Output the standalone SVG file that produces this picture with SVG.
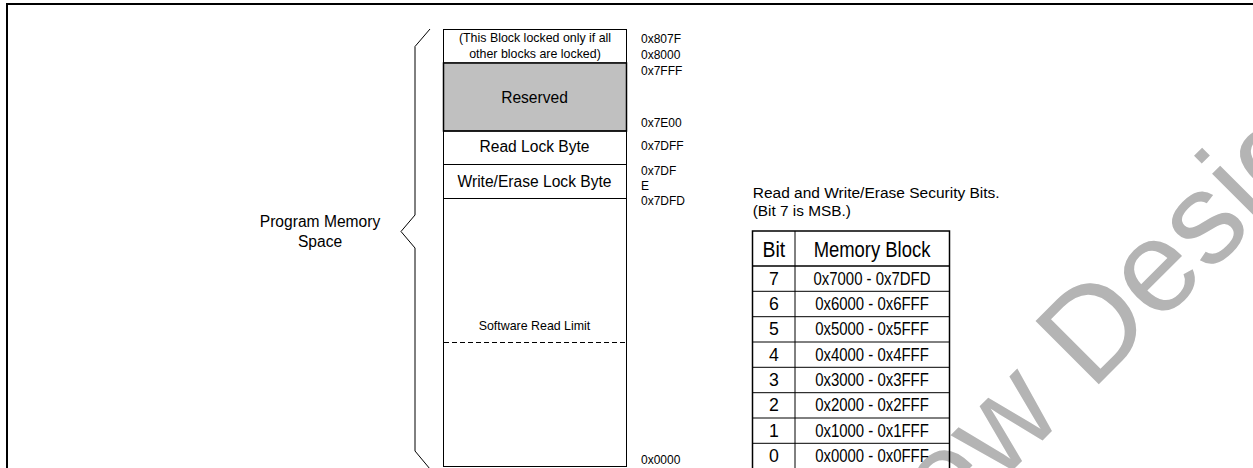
<svg xmlns="http://www.w3.org/2000/svg" width="1253" height="468" viewBox="0 0 1253 468">
<style>
  text { font-family: "Liberation Sans", Arial, sans-serif; fill: #000; }
  .lbl { font-size: 15.6px; text-anchor: middle; }
  .sm { font-size: 12.4px; text-anchor: middle; }
  .addr { font-size: 12px; }
  .title { font-size: 15.4px; }
  .th { font-size: 22px; text-anchor: middle; }
  .td { font-size: 17.7px; text-anchor: middle; }
  .ln { fill: none; stroke: #000; stroke-width: 1; }
  .wm { font-size: 130px; fill: #b4b4b4; }
</style>
<rect width="1253" height="468" fill="#fff"/>
<g id="watermark">
  <text class="wm" transform="translate(1091,392) rotate(-45)" x="-296" y="0">New Design</text>
</g>
<g id="frame">
  <path d="M7,470 V4 H1256" fill="none" stroke="#000" stroke-width="2"/>
</g>
<g id="memory-map">
  <g id="block-top">
    <rect class="ln" x="443.5" y="29.5" width="183" height="33.5" fill="#fff"/>
    <text class="sm" x="535" y="41.5">(This Block locked only if all</text>
    <text class="sm" x="535" y="58">other blocks are locked)</text>
  </g>
  <g id="block-reserved">
    <rect x="443.5" y="63" width="183" height="68" fill="#c0c0c0" stroke="#000" stroke-width="1.5"/>
    <text class="lbl" x="534.5" y="103.3">Reserved</text>
  </g>
  <g id="block-read-lock">
    <rect class="ln" x="443.5" y="131" width="183" height="33.5"/>
    <text class="lbl" x="534.5" y="152">Read Lock Byte</text>
  </g>
  <g id="block-write-lock">
    <rect class="ln" x="443.5" y="164.5" width="183" height="34"/>
    <text class="lbl" x="534.5" y="187">Write/Erase Lock Byte</text>
  </g>
  <g id="block-program">
    <rect class="ln" x="443.5" y="198.5" width="183" height="268"/>
    <text class="sm" x="534.5" y="330">Software Read Limit</text>
    <line x1="444" y1="342.5" x2="626" y2="342.5" stroke="#000" stroke-width="1" stroke-dasharray="5,3"/>
  </g>
</g>
<g id="addresses">
  <text class="addr" x="641" y="43">0x807F</text>
  <text class="addr" x="641" y="58.5">0x8000</text>
  <text class="addr" x="641" y="74.5">0x7FFF</text>
  <text class="addr" x="641" y="126.5">0x7E00</text>
  <text class="addr" x="641" y="150">0x7DFF</text>
  <text class="addr" x="641" y="175">0x7DF</text>
  <text class="addr" x="641" y="189.5">E</text>
  <text class="addr" x="641" y="204.5">0x7DFD</text>
  <text class="addr" x="641" y="463.5">0x0000</text>
</g>
<g id="connectors">
  <path id="brace" class="ln" d="M430,29 L415,46.5 V215 L401,231.5 L415,248 V451 L430,469"/>
</g>
<g id="program-memory-label">
  <text class="lbl" x="320" y="226.5">Program Memory</text>
  <text class="lbl" x="320" y="247">Space</text>
</g>
<g id="table-title">
  <text class="title" x="752.7" y="197.7" textLength="247" lengthAdjust="spacingAndGlyphs">Read and Write/Erase Security Bits.</text>
  <text class="title" x="752.7" y="215.7" textLength="98.3" lengthAdjust="spacingAndGlyphs">(Bit 7 is MSB.)</text>
</g>
<g id="security-table">
  <rect x="752.5" y="231" width="197" height="240" fill="none" stroke="#000" stroke-width="1.5"/>
  <line x1="752.5" y1="266" x2="949.5" y2="266" stroke="#000" stroke-width="1.5"/>
  <g stroke="#000" stroke-width="1">
    <line x1="795" y1="231" x2="795" y2="470"/>
    <line x1="752.5" y1="291.3" x2="949.5" y2="291.3"/>
    <line x1="752.5" y1="316.7" x2="949.5" y2="316.7"/>
    <line x1="752.5" y1="342" x2="949.5" y2="342"/>
    <line x1="752.5" y1="367.3" x2="949.5" y2="367.3"/>
    <line x1="752.5" y1="392.7" x2="949.5" y2="392.7"/>
    <line x1="752.5" y1="418" x2="949.5" y2="418"/>
    <line x1="752.5" y1="443.3" x2="949.5" y2="443.3"/>
  </g>
  <text class="th" x="773.8" y="256.7" textLength="22.7" lengthAdjust="spacingAndGlyphs">Bit</text>
  <text class="th" x="872" y="256.7" textLength="116.7" lengthAdjust="spacingAndGlyphs">Memory Block</text>
  <g id="row7"><text class="td" x="773.8" y="284.5">7</text><text class="td" x="872" y="284.5" textLength="117" lengthAdjust="spacingAndGlyphs">0x7000 - 0x7DFD</text></g>
  <g id="row6"><text class="td" x="773.8" y="309.8">6</text><text class="td" x="872" y="309.8" textLength="113.7" lengthAdjust="spacingAndGlyphs">0x6000 - 0x6FFF</text></g>
  <g id="row5"><text class="td" x="773.8" y="335.2">5</text><text class="td" x="872" y="335.2" textLength="113.7" lengthAdjust="spacingAndGlyphs">0x5000 - 0x5FFF</text></g>
  <g id="row4"><text class="td" x="773.8" y="360.5">4</text><text class="td" x="872" y="360.5" textLength="113.7" lengthAdjust="spacingAndGlyphs">0x4000 - 0x4FFF</text></g>
  <g id="row3"><text class="td" x="773.8" y="385.8">3</text><text class="td" x="872" y="385.8" textLength="113.7" lengthAdjust="spacingAndGlyphs">0x3000 - 0x3FFF</text></g>
  <g id="row2"><text class="td" x="773.8" y="411.2">2</text><text class="td" x="872" y="411.2" textLength="113.7" lengthAdjust="spacingAndGlyphs">0x2000 - 0x2FFF</text></g>
  <g id="row1"><text class="td" x="773.8" y="436.5">1</text><text class="td" x="872" y="436.5" textLength="113.7" lengthAdjust="spacingAndGlyphs">0x1000 - 0x1FFF</text></g>
  <g id="row0"><text class="td" x="773.8" y="461.8">0</text><text class="td" x="872" y="461.8" textLength="113.7" lengthAdjust="spacingAndGlyphs">0x0000 - 0x0FFF</text></g>
</g>
</svg>
